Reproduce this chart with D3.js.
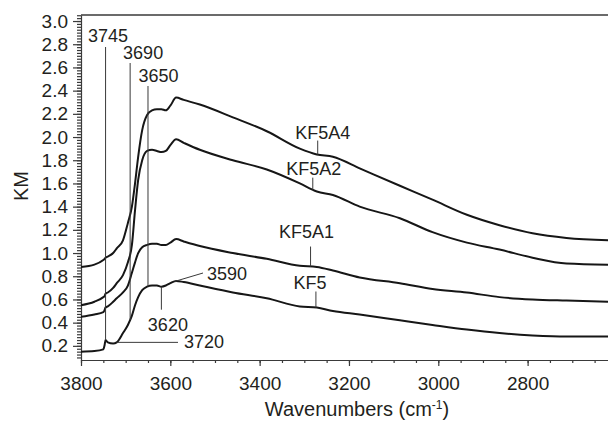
<!DOCTYPE html>
<html>
<head>
<meta charset="utf-8">
<script src="https://cdn.jsdelivr.net/npm/d3@7"></script>
<style>
  body { margin: 0; background: #fff; }
  svg { display: block; font-family: "Liberation Sans", Arial, sans-serif; }
  .curve { fill: none; stroke: #161616; stroke-width: 2; stroke-linejoin: round; }
  .mark { stroke: #3a3a3a; stroke-width: 1; fill: none; }
  .axis path, .axis line { stroke: #3a3a3a; stroke-width: 1.2; }
  text { fill: #231f20; }
</style>
</head>
<body>
<svg id="chart"></svg>
<script>
// shared wavenumber grid (cm-1)
var wavenumbers = [3800, 3770, 3750, 3747, 3745, 3740, 3728, 3720, 3706, 3695, 3686, 3679,
  3672, 3663, 3652, 3641, 3630, 3620, 3610, 3600, 3587, 3570, 3534, 3460, 3384, 3310,
  3272, 3236, 3176, 3086, 3013, 2936, 2863, 2789, 2713, 2620];

var kf5a4 = [0.88, 0.90, 0.94, 0.95, 0.96, 0.97, 1.00, 1.04, 1.11, 1.26, 1.40, 1.60,
  1.83, 2.06, 2.19, 2.23, 2.24, 2.24, 2.23, 2.27, 2.34, 2.32, 2.28, 2.17, 2.05, 1.90,
  1.85, 1.83, 1.73, 1.58, 1.46, 1.33, 1.24, 1.17, 1.13, 1.11];

var kf5a2 = [0.55, 0.58, 0.62, 0.63, 0.65, 0.66, 0.70, 0.74, 0.81, 0.92, 1.07, 1.37,
  1.63, 1.80, 1.88, 1.89, 1.88, 1.87, 1.88, 1.93, 1.98, 1.95, 1.89, 1.80, 1.72, 1.60,
  1.53, 1.50, 1.40, 1.30, 1.18, 1.09, 1.03, 0.96, 0.91, 0.90];

var kf5a1 = [0.45, 0.47, 0.49, 0.51, 0.53, 0.54, 0.58, 0.61, 0.66, 0.72, 0.83, 0.92,
  1.00, 1.05, 1.07, 1.08, 1.08, 1.07, 1.07, 1.09, 1.12, 1.10, 1.06, 1.00, 0.95, 0.89,
  0.88, 0.85, 0.79, 0.74, 0.69, 0.66, 0.62, 0.60, 0.59, 0.58];

var kf5 = [0.15, 0.155, 0.17, 0.21, 0.25, 0.23, 0.22, 0.23, 0.31, 0.38, 0.46, 0.55,
  0.62, 0.68, 0.71, 0.72, 0.72, 0.71, 0.72, 0.74, 0.76, 0.75, 0.72, 0.66, 0.61, 0.54,
  0.53, 0.50, 0.47, 0.42, 0.38, 0.34, 0.31, 0.29, 0.28, 0.28];

var seriesNames = ["KF5A4", "KF5A2", "KF5A1", "KF5"];
var seriesLabelWn = [3270, 3281, 3286, 3274];

var xTicks = [3800, 3600, 3400, 3200, 3000, 2800];
var yTicks = [0.2, 0.4, 0.6, 0.8, 1.0, 1.2, 1.4, 1.6, 1.8, 2.0, 2.2, 2.4, 2.6, 2.8, 3.0];

var topBandLabels = ["3745", "3690", "3650"];
var topBandWn = [3745, 3690, 3650];

var Chart = (function(){

  var that = {},
    width = 608,
    height = 421,
    svg,
    x,
    y,
    line,
    allSeries;

  function init(){
    svg = d3.select("#chart")
      .attr("width", width)
      .attr("height", height);

    x = d3.scaleLinear().domain([3800, 2620]).range([81, 608]);
    y = d3.scaleLinear().domain([0.078, 3.052]).range([360, 15]);

    allSeries = [kf5a4, kf5a2, kf5a1, kf5];

    line = d3.line()
      .x(function(d){ return x(d[0]); })
      .y(function(d){ return y(d[1]); })
      .curve(d3.curveMonotoneX);

    drawAxes();
    drawCurves();
    drawBandMarks();
    drawSeriesLabels();
  }

  function drawAxes(){
    var minorX = d3.range(3800, 2619, -50);
    var minorY = d3.range(4, 123).map(function(i){ return i * 0.025; });

    // top frame
    svg.append("line")
      .attr("x1", 81).attr("x2", width)
      .attr("y1", 15).attr("y2", 15)
      .style("stroke", "#3a3a3a").style("stroke-width", 1.5);

    svg.append("g")
      .attr("class", "axis")
      .attr("transform", "translate(0,360)")
      .call(d3.axisBottom(x).tickValues(minorX).tickSize(3).tickSizeOuter(0).tickFormat(""));

    svg.append("g")
      .attr("class", "axis")
      .attr("transform", "translate(0,360)")
      .call(d3.axisBottom(x).tickValues(xTicks).tickSize(6).tickSizeOuter(0)
        .tickPadding(10.5).tickFormat(d3.format("d")))
      .call(function(g){ g.select(".domain").remove(); })
      .selectAll("text")
      .style("font-size", "19px")
      .style("font-family", "'Liberation Sans', Arial, sans-serif")
      .style("fill", "#231f20");

    svg.append("g")
      .attr("class", "axis")
      .attr("transform", "translate(81,0)")
      .call(d3.axisLeft(y).tickValues(minorY).tickSize(4).tickSizeOuter(0).tickFormat(""));

    svg.append("g")
      .attr("class", "axis")
      .attr("transform", "translate(81,0)")
      .call(d3.axisLeft(y).tickValues(yTicks).tickSize(8).tickSizeOuter(0)
        .tickPadding(5).tickFormat(d3.format(".1f")))
      .call(function(g){ g.select(".domain").remove(); })
      .selectAll("text")
      .style("font-size", "19px")
      .style("font-family", "'Liberation Sans', Arial, sans-serif")
      .style("fill", "#231f20");

    svg.append("text")
      .attr("transform", "translate(27.5,186)rotate(-90)")
      .attr("text-anchor", "middle")
      .style("font-size", "20px")
      .text("KM");

    var title = svg.append("text")
      .attr("x", 357)
      .attr("y", 416)
      .attr("text-anchor", "middle")
      .style("font-size", "20px");
    title.append("tspan").text("Wavenumbers (cm");
    title.append("tspan").attr("dy", "-7").style("font-size", "12px").text("-1");
    title.append("tspan").attr("dy", "7").text(")");
  }

  function drawCurves(){
    svg.selectAll(".curve")
      .data(allSeries).enter()
      .append("path")
      .attr("class", "curve")
      .attr("d", function(s){
        return line(wavenumbers.map(function(w, i){ return [w, s[i]]; }));
      });
  }

  // linear read of a series at a wavenumber
  function valueAt(s, w){
    for (var i = 0; i < wavenumbers.length - 1; i++){
      var a = wavenumbers[i], b = wavenumbers[i + 1];
      if (w <= a && w >= b){
        var t = (a - w) / (a - b);
        return s[i] + t * (s[i + 1] - s[i]);
      }
    }
    return s[s.length - 1];
  }

  function drawBandMarks(){
    var topY = [47, 63, 86],
      textDx = [2.5, 13, 10.5],
      textY = [42, 59, 82];

    topBandWn.forEach(function(w, i){
      svg.append("line").attr("class", "mark")
        .attr("x1", x(w)).attr("x2", x(w))
        .attr("y1", topY[i]).attr("y2", y(valueAt(kf5, w)));
      svg.append("text")
        .attr("x", x(w) + textDx[i]).attr("y", textY[i])
        .attr("text-anchor", "middle")
        .style("font-size", "18px")
        .text(topBandLabels[i]);
    });

    // 3620, below the KF5 curve
    var y3620 = y(valueAt(kf5, 3620));
    svg.append("line").attr("class", "mark")
      .attr("x1", x(3620)).attr("x2", x(3620))
      .attr("y1", y3620).attr("y2", y3620 + 23);
    svg.append("text")
      .attr("x", x(3620) + 6.5).attr("y", 331)
      .attr("text-anchor", "middle")
      .style("font-size", "18px")
      .text("3620");

    // 3720, horizontal leader
    var y3720 = y(valueAt(kf5, 3720));
    svg.append("line").attr("class", "mark")
      .attr("x1", x(3720)).attr("x2", 178)
      .attr("y1", y3720).attr("y2", y3720);
    svg.append("text")
      .attr("x", 184).attr("y", y3720 + 6)
      .style("font-size", "18px")
      .text("3720");

    // 3590, slanted leader
    var y3590 = y(valueAt(kf5, 3590));
    svg.append("line").attr("class", "mark")
      .attr("x1", x(3590)).attr("x2", 203)
      .attr("y1", y3590).attr("y2", 273);
    svg.append("text")
      .attr("x", 207).attr("y", 280)
      .style("font-size", "18px")
      .text("3590");
  }

  function drawSeriesLabels(){
    var tickLen = [14, 12, 20, 16],
      textDx = [5, 1, -4, -6],
      textGap = [1.5, 3, 9, 3];

    allSeries.forEach(function(s, i){
      var w = seriesLabelWn[i],
        px = x(w),
        py = y(valueAt(s, w));
      svg.append("line").attr("class", "mark")
        .attr("x1", px).attr("x2", px)
        .attr("y1", py).attr("y2", py - tickLen[i]);
      svg.append("text")
        .attr("x", px + textDx[i])
        .attr("y", py - tickLen[i] - textGap[i])
        .attr("text-anchor", "middle")
        .style("font-size", "18px")
        .text(seriesNames[i]);
    });
  }

  that.init = init;
  return that;
})();

Chart.init();
</script>
</body>
</html>
